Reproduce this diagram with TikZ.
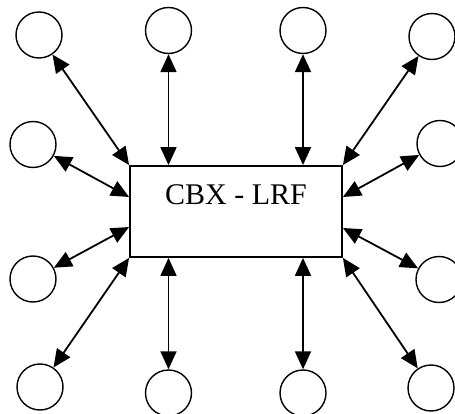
\documentclass[tikz,border=0pt]{standalone}
\usepackage{fontspec}
\setmainfont{Liberation Serif}
\usetikzlibrary{arrows.meta}
\begin{document}
\begin{tikzpicture}[x=1pt,y=-1pt,
  sat/.style={draw, circle, minimum size=46pt, inner sep=0pt, line width=1.4pt},
  hub/.style={draw, rectangle, line width=1.8pt, minimum width=212pt, minimum height=91pt,
    inner sep=0pt, text height=20pt, text depth=33pt, font=\fontsize{30}{36}\selectfont},
  link/.style={line width=1.8pt, {Triangle[length=18pt,width=16pt]}-{Triangle[length=18pt,width=16pt]}}]
\useasboundingbox (0,0) rectangle (455,414);
\clip (0,0) rectangle (455,414);
\node[hub] (box) at (236,211.5) {CBX - LRF};
\node[sat] (c1) at (39,35) {};
\node[sat] (c2) at (168.5,30.5) {};
\node[sat] (c3) at (303,30.5) {};
\node[sat] (c4) at (432,36.5) {};
\node[sat] (c5) at (33,144.5) {};
\node[sat] (c6) at (440,143.5) {};
\node[sat] (c7) at (33,279) {};
\node[sat] (c8) at (439,279.5) {};
\node[sat] (c9) at (40,387) {};
\node[sat] (c10) at (168.5,393) {};
\node[sat] (c11) at (303,393) {};
\node[sat] (c12) at (431,388) {};
\coordinate (t1) at (c2 |- box.north);
\coordinate (t2) at (c3 |- box.north);
\coordinate (b1) at (c10 |- box.south);
\coordinate (b2) at (c11 |- box.south);
\coordinate (l1) at (box.west |- 0,197);
\coordinate (l2) at (box.west |- 0,227);
\coordinate (r1) at (box.east |- 0,197);
\coordinate (r2) at (box.east |- 0,228);
\draw[link] (c1) -- (box.north west);
\draw[link] (c2) -- (t1);
\draw[link] (c3) -- (t2);
\draw[link] (c4) -- (box.north east);
\draw[link] (c5) -- (l1);
\draw[link] (c6) -- (r1);
\draw[link] (c7) -- (l2);
\draw[link] (c8) -- (r2);
\draw[link] (c9) -- (box.south west);
\draw[link] (c10) -- (b1);
\draw[link] (c11) -- (b2);
\draw[link] (c12) -- (box.south east);
\end{tikzpicture}
\end{document}
